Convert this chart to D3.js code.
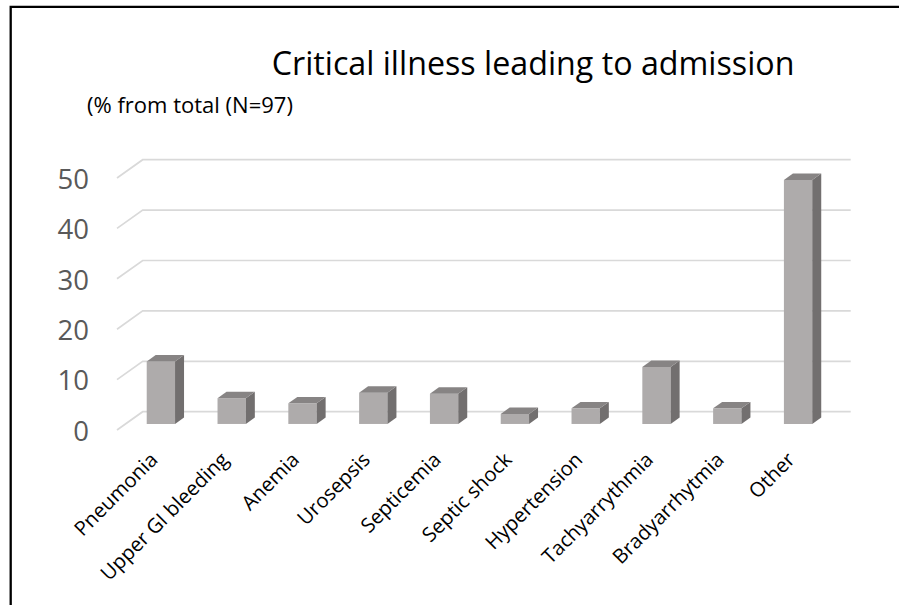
<!DOCTYPE html>
<html>
<head>
<meta charset="utf-8">
<script src="https://cdn.jsdelivr.net/npm/d3@7"></script>
<style>
  body { margin: 0; background: #fff; }
  text { font-family: "Open Sans", sans-serif; }
</style>
</head>
<body>
<svg width="899" height="605"></svg>
<script>
const width = 899;
const height = 605;

// data
const categories = ['Pneumonia', 'Upper GI bleeding', 'Anemia', 'Urosepsis', 'Septicemia',
  'Septic shock', 'Hypertension', 'Tachyarrythmia', 'Bradyarrhytmia', 'Other'];
const values = [12.4, 5.1, 4.1, 6.2, 6.0, 2.0, 3.1, 11.3, 3.1, 48.4];
const yTicks = [0, 10, 20, 30, 40, 50];
const title = 'Critical illness leading to admission';
const subtitle = '(% from total (N=97)';

// 3d depth of the floor / walls
const DX = 25.7, DY = 18.3;
const barF0 = 0.33, barF1 = 0.68;

const svg = d3.select('svg');

const x = d3.scaleBand()
  .domain(categories)
  .range([117, 825])
  .paddingInner(0.6)
  .paddingOuter(0.3);

// y on the front plane (back wall is DY higher)
const yFront = d3.scaleLinear().domain([0, 50]).range([411.7 + DY, 159.7 + DY]);

// point at front x, value v, depth fraction f
const pt = (xf, v, f) => [xf + f * DX, yFront(v) - f * DY];

// frame
svg.append('path')
  .attr('d', 'M10.7,' + height + 'V6.8H' + width)
  .attr('fill', 'none')
  .attr('stroke', '#000')
  .attr('stroke-width', 2.3);

// gridlines
const x0 = x.range()[0], x1 = x.range()[1];
svg.append('g')
  .selectAll('path')
  .data(yTicks)
  .join('path')
    .attr('d', d => {
      const a = pt(x0, d, 0), b = pt(x0, d, 1), c = pt(x1, d, 1);
      return 'M' + a + 'L' + b + 'L' + c;
    })
    .attr('fill', 'none')
    .attr('stroke', '#d9d9d9')
    .attr('stroke-width', 1.7);

// y labels
const yAxis = svg.append('g')
  .attr('transform', 'translate(89,1.5)')
  .call(d3.axisLeft(yFront).tickValues(yTicks).tickSize(0).tickPadding(0));
yAxis.select('.domain').remove();
yAxis.selectAll('text')
  .attr('fill', '#595959')
  .style('font-size', '27.5px')
  .style('font-family', '"Open Sans", sans-serif');

// bars
const bars = svg.append('g')
  .selectAll('g')
  .data(categories.map((c, i) => ({ cat: c, value: values[i] })))
  .join('g');

const poly = ps => 'M' + ps.join('L') + 'Z';

bars.append('path') // front
  .attr('d', d => {
    const l = x(d.cat), r = l + x.bandwidth();
    return poly([pt(l, 0, barF0), pt(r, 0, barF0), pt(r, d.value, barF0), pt(l, d.value, barF0)]);
  })
  .attr('fill', '#aeabab');

bars.append('path') // side
  .attr('d', d => {
    const r = x(d.cat) + x.bandwidth();
    return poly([pt(r, 0, barF0), pt(r, 0, barF1), pt(r, d.value, barF1), pt(r, d.value, barF0)]);
  })
  .attr('fill', '#726f6f');

bars.append('path') // top
  .attr('d', d => {
    const l = x(d.cat), r = l + x.bandwidth();
    return poly([pt(l, d.value, barF0), pt(r, d.value, barF0), pt(r, d.value, barF1), pt(l, d.value, barF1)]);
  })
  .attr('fill', '#878484');

// x labels
svg.append('g')
  .selectAll('text')
  .data(categories)
  .join('text')
    .attr('transform', d => 'translate(' + (x(d) + x.bandwidth() / 2 + barF0 * DX - 2) + ',461) rotate(-45)')
    .attr('text-anchor', 'end')
    .attr('fill', '#000')
    .style('font-size', '20.2px')
    .text(d => d);

// titles, fitted to the widths seen in the picture
function fitText(sel, w) {
  const len = sel.node().getComputedTextLength();
  const fs = parseFloat(sel.style('font-size'));
  sel.style('font-size', (fs * w / len) + 'px');
}

const t = svg.append('text')
  .attr('x', 271.7)
  .attr('y', 75)
  .attr('fill', '#000')
  .style('font-size', '30px')
  .text(title);
fitText(t, 523);

const st = svg.append('text')
  .attr('x', 87)
  .attr('y', 112.5)
  .attr('fill', '#000')
  .style('font-size', '18px')
  .text(subtitle);
fitText(st, 206);
</script>
</body>
</html>
